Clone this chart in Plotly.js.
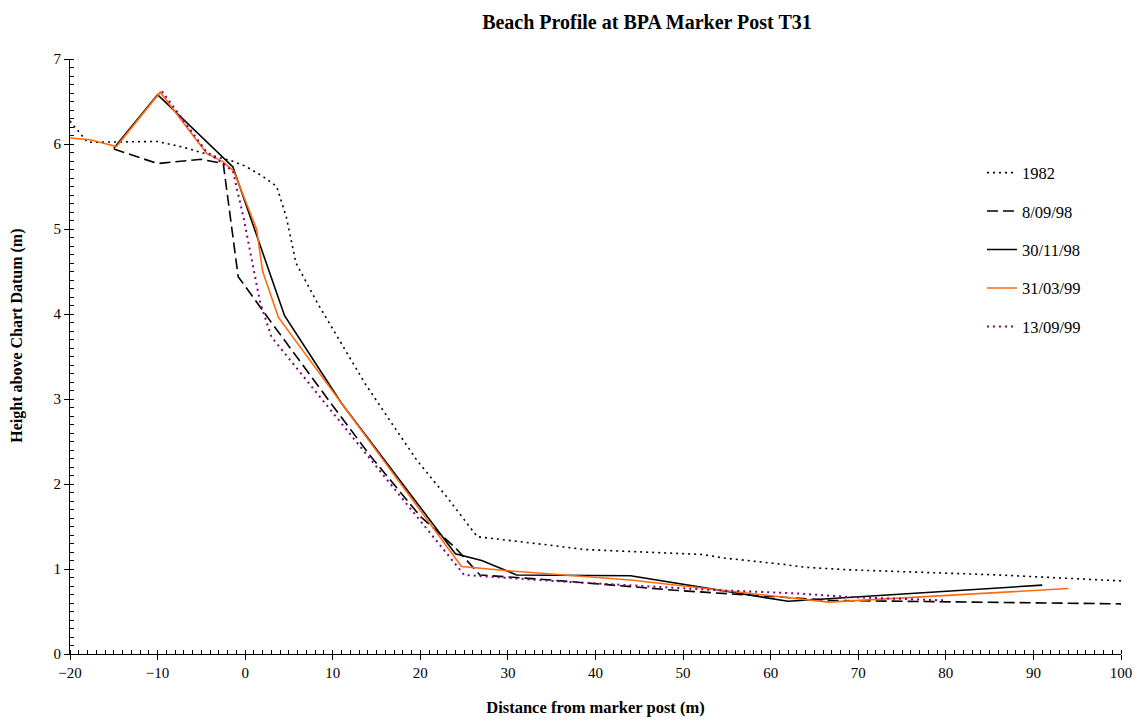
<!DOCTYPE html>
<html>
<head>
<meta charset="utf-8">
<script src="https://cdn.plot.ly/plotly-3.0.1.min.js"></script>
<style>html,body{margin:0;padding:0;background:#fff;}#chart{width:1140px;height:724px;}</style>
</head>
<body>
<div id="chart"></div>
<script>
// Series names
const seriesNames = ["1982", "8/09/98", "30/11/98", "31/03/99", "13/09/99"];

// 1982
const x1982 = [-20, -18, -10, -7, -4, -1.5, 0, 2, 3.6, 4.7, 5.8, 8.3, 11, 13.7, 16.7, 19.6, 23, 26.5, 34.8, 38.6, 52.3, 54.6, 61.4, 64, 69, 75, 86, 100];
const y1982 = [6.27, 6.02, 6.03, 5.96, 5.87, 5.8, 5.74, 5.62, 5.5, 5.14, 4.6, 4.12, 3.65, 3.18, 2.72, 2.28, 1.85, 1.38, 1.28, 1.23, 1.17, 1.13, 1.055, 1.02, 0.99, 0.97, 0.93, 0.86];

// 8/09/98
const x0898 = [-15, -10, -5, -2.5, -0.8, 2.5, 10, 14.3, 20, 24, 26.8, 35, 49, 55, 67, 100];
const y0898 = [5.94, 5.77, 5.82, 5.77, 4.44, 3.97, 2.92, 2.33, 1.62, 1.25, 0.93, 0.87, 0.75, 0.71, 0.63, 0.59];

// 30/11/98
const x3011 = [-15, -10, -1.4, 4.5, 11, 24, 27, 31, 44, 62, 91];
const y3011 = [5.95, 6.58, 5.73, 3.98, 2.95, 1.18, 1.1, 0.93, 0.92, 0.62, 0.81];

// 31/03/99
const x3103 = [-20, -17.7, -14.7, -9.7, -4.4, -2.5, -1.3, 1.3, 2.0, 3.8, 24.7, 30, 44, 66.6, 94];
const y3103 = [6.07, 6.05, 5.97, 6.61, 5.89, 5.79, 5.68, 5.0, 4.5, 3.96, 1.03, 0.98, 0.87, 0.61, 0.77];

// 13/09/99
const x1309 = [-9.5, -4.5, -1.4, -0.2, 1.7, 3.0, 25, 35, 54, 63.4, 69, 80];
const y1309 = [6.62, 5.92, 5.68, 5.14, 4.14, 3.73, 0.93, 0.86, 0.75, 0.71, 0.67, 0.63];

// Text
const chartTitle = "Beach Profile at BPA Marker Post T31";
const xTitle = "Distance from marker post (m)";
const yTitle = "Height above Chart Datum (m)";

const FONT = "'Liberation Serif', 'Times New Roman', serif";

function tr(x, y, name, color, width, dash, grp) {
  return {x: x, y: y, name: name, type: 'scatter', mode: 'lines',
    legendgroup: grp,
    line: {color: color, width: width, dash: dash}, hoverinfo: 'skip'};
}

const data = [
  tr(x1982, y1982, seriesNames[0], '#000000', 1.6, '2px,4px', 'a'),
  tr(x0898, y0898, seriesNames[1], '#000000', 1.6, '11px,5px', 'b'),
  tr(x3011, y3011, seriesNames[2], '#000000', 1.6, 'solid', 'c'),
  tr(x3103, y3103, seriesNames[3], '#ff6a10', 1.6, 'solid', 'd'),
  tr(x1309, y1309, seriesNames[4], '#800080', 2, '2px,4px', 'e')
];

const layout = {
  width: 1140, height: 724,
  paper_bgcolor: '#ffffff', plot_bgcolor: '#ffffff',
  margin: {l: 70, r: 19, t: 59, b: 70, pad: 0},
  font: {family: FONT, size: 15, color: '#000'},
  title: {text: '<b>' + chartTitle + '</b>', font: {family: FONT, size: 20, color: '#000'},
    xref: 'container', yref: 'container', x: 0.5675, xanchor: 'center', y: 0.969, yanchor: 'middle'},
  showlegend: true,
  legend: {x: 0.8677, y: 0.838, xanchor: 'left', yanchor: 'top',
    traceorder: 'grouped', tracegroupgap: 14,
    font: {family: FONT, size: 16.5, color: '#000'}, bgcolor: 'rgba(0,0,0,0)', borderwidth: 0},
  xaxis: {range: [-20, 100], dtick: 10, tick0: 0, showgrid: false, zeroline: false,
    showline: true, linecolor: '#000', linewidth: 1, mirror: false,
    ticks: 'outside', ticklen: 5, tickcolor: '#000', tickwidth: 1,
    minor: {dtick: 1, ticks: 'inside', ticklen: 4, tickcolor: '#000', tickwidth: 1, showgrid: false},
    tickfont: {family: FONT, size: 15, color: '#000'},
    title: {text: '<b>' + xTitle + '</b>', font: {family: FONT, size: 16.5, color: '#000'}, standoff: 21}
  },
  yaxis: {range: [0, 7], dtick: 1, tick0: 0, showgrid: false, zeroline: false,
    showline: true, linecolor: '#000', linewidth: 1,
    ticks: 'outside', ticklen: 5, tickcolor: '#000', tickwidth: 1,
    minor: {dtick: 0.1, ticks: 'inside', ticklen: 4, tickcolor: '#000', tickwidth: 1, showgrid: false},
    tickfont: {family: FONT, size: 15, color: '#000'}
  },
  annotations: [{
    text: '<b>' + yTitle + '</b>', textangle: -90, showarrow: false,
    xref: 'paper', yref: 'paper', x: -0.0504, y: 0.535, xanchor: 'center', yanchor: 'middle',
    font: {family: FONT, size: 16, color: '#000'}
  }]
};

Plotly.newPlot('chart', data, layout, {staticPlot: true, displayModeBar: false});
</script>
</body>
</html>
